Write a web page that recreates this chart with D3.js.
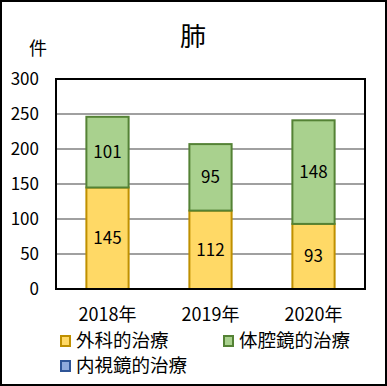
<!DOCTYPE html>
<html lang="ja">
<head>
  <meta charset="UTF-8">
  <title>肺</title>
  <style>
    body { margin: 0; }
    text { font-family: "Noto Sans CJK JP", "Noto Sans", sans-serif; }
  </style>
</head>
<body>

  <svg id="svg" width="387" height="386"></svg>

  <script src="https://d3js.org/d3.v7.min.js"></script>
  <script>

    const years = ['2018年', '2019年', '2020年']
    const surgical = [145, 112, 93]
    const thoracoscopic = [101, 95, 148]
    const endoscopic = [0, 0, 0]
    const yTicks = [0, 50, 100, 150, 200, 250, 300]

    const seriesNames = ['外科的治療', '体腔鏡的治療', '内視鏡的治療']
    const fills = ['#FFD966', '#A9D18E', '#8FAADC']
    const strokes = ['#BF9000', '#548235', '#2F5597']

    const rows = years.map((y, i) => ({
      year: y, s0: surgical[i], s1: thoracoscopic[i], s2: endoscopic[i]
    }))
    const stack = d3.stack().keys(['s0', 's1', 's2'])(rows)

    const svg = d3.select('#svg')

    // outer border
    svg.append('rect')
      .attr('x', 1).attr('y', 1).attr('width', 385).attr('height', 384)
      .attr('fill', 'white').attr('stroke', 'black').attr('stroke-width', 2)

    const plotLeft = 56, plotRight = 365, plotTop = 79, plotBottom = 289

    const xScale = d3.scaleBand()
      .domain(years)
      .range([plotLeft, plotRight])
      .paddingInner(0.59)
      .paddingOuter(0.295)

    const yScale = d3.scaleLinear()
      .domain([0, 300])
      .range([plotBottom, plotTop])

    // gridlines
    svg.append('g')
      .selectAll('line')
      .data(yTicks.slice(1, -1))
      .enter()
      .append('line')
      .attr('x1', plotLeft).attr('x2', plotRight)
      .attr('y1', d => yScale(d)).attr('y2', d => yScale(d))
      .attr('stroke', '#808080').attr('stroke-width', 1.5)

    // tick labels
    svg.append('g')
      .selectAll('text')
      .data(yTicks)
      .enter()
      .append('text')
      .attr('x', 39)
      .attr('y', d => yScale(d))
      .attr('dy', '0.35em')
      .attr('text-anchor', 'end')
      .attr('font-size', 17)
      .text(d => d)

    // bars
    stack.forEach((layer, k) => {
      svg.append('g')
        .selectAll('rect')
        .data(layer.filter(d => d[1] > d[0]))
        .enter()
        .append('rect')
        .attr('x', d => xScale(d.data.year))
        .attr('y', d => yScale(d[1]))
        .attr('width', xScale.bandwidth())
        .attr('height', d => yScale(d[0]) - yScale(d[1]))
        .attr('fill', fills[k])
        .attr('stroke', strokes[k])
        .attr('stroke-width', 2)

      svg.append('g')
        .selectAll('text')
        .data(layer.filter(d => d[1] > d[0]))
        .enter()
        .append('text')
        .attr('x', d => xScale(d.data.year) + xScale.bandwidth() / 2)
        .attr('y', d => yScale((d[0] + d[1]) / 2))
        .attr('dy', '0.35em')
        .attr('text-anchor', 'middle')
        .attr('font-size', 17)
        .text(d => d[1] - d[0])
    })

    // plot border
    svg.append('rect')
      .attr('x', plotLeft).attr('y', plotTop)
      .attr('width', plotRight - plotLeft).attr('height', plotBottom - plotTop)
      .attr('fill', 'none').attr('stroke', 'black').attr('stroke-width', 2)

    // x labels
    svg.append('g')
      .selectAll('text')
      .data(years)
      .enter()
      .append('text')
      .attr('x', d => xScale(d) + xScale.bandwidth() / 2)
      .attr('y', 321)
      .attr('text-anchor', 'middle')
      .attr('font-size', 18)
      .text(d => d)

    // title and unit
    svg.append('text')
      .attr('x', 193).attr('y', 46)
      .attr('text-anchor', 'middle')
      .attr('font-size', 26)
      .text('肺')

    svg.append('text')
      .attr('x', 38).attr('y', 55)
      .attr('text-anchor', 'middle')
      .attr('font-size', 18)
      .text('件')

    // legend
    const legendPos = [[60, 341], [223, 341], [60, 366]]
    const legend = svg.append('g')
      .selectAll('g')
      .data(seriesNames)
      .enter()
      .append('g')
      .attr('transform', (d, i) => `translate(${legendPos[i][0]},${legendPos[i][1]})`)

    legend.append('rect')
      .attr('x', 1).attr('y', -5)
      .attr('width', 9).attr('height', 10)
      .attr('fill', (d, i) => fills[i])
      .attr('stroke', (d, i) => strokes[i])
      .attr('stroke-width', 2)

    legend.append('text')
      .attr('x', 16).attr('y', 0)
      .attr('dy', '0.35em')
      .attr('font-size', 18.5)
      .text(d => d)

  </script>
</body>
</html>
